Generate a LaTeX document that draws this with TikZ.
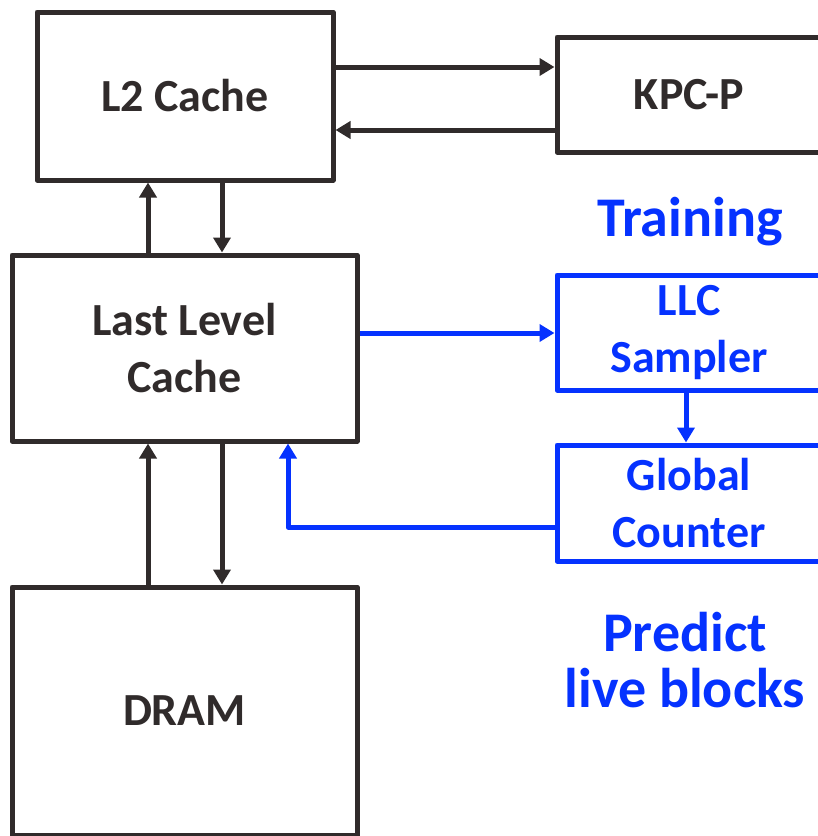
\documentclass[tikz,border=0pt]{standalone}
\usepackage{fontspec}
\setmainfont{Carlito}
\usetikzlibrary{arrows.meta}
\definecolor{ink}{RGB}{48,43,43}
\definecolor{bl}{RGB}{5,50,255}
\tikzset{
  boxfont/.style={font=\fontsize{46}{57.5}\selectfont\bfseries},
  box/.style={draw=ink, line width=5pt, line join=round, text=ink, boxfont, align=center, inner sep=0pt},
  bbox/.style={draw=bl, line width=5pt, line join=round, text=bl, boxfont, align=center, inner sep=0pt},
  karrow/.style={draw=ink, line width=5pt, -{Triangle[length=15pt,width=17pt]}},
  barrow/.style={draw=bl, line width=5pt, line join=round, -{Triangle[length=15pt,width=17pt]}},
  blabel/.style={text=bl, font=\fontsize{56}{56}\selectfont\bfseries, align=center, inner sep=0pt}
}
\begin{document}
\begin{tikzpicture}[x=1pt, y=-1pt]
  \useasboundingbox (0,0) rectangle (818,836);
  \clip (0,0) rectangle (818,836);
  % boxes
  \node[box, minimum width=296pt, minimum height=168pt] (l2) at (185,96) {L2 Cache};
  \node[box, minimum width=345pt, minimum height=186pt] (llc) at (184.5,348) {Last Level\\Cache};
  \node[box, minimum width=345pt, minimum height=248pt] (dram) at (184.5,711) {DRAM};
  \node[box, minimum width=264pt, minimum height=115pt] (kpc) at (689,94.5) {KPC-P};
  \node[bbox, minimum width=264pt, minimum height=115pt] (samp) at (689,332.5) {LLC\\Sampler};
  \node[bbox, minimum width=264pt, minimum height=116pt] (cnt) at (689,503) {Global\\Counter};
  % labels
  \node[blabel] (train) at (690,222) {Training};
  \node[blabel] (pred) at (685,660) {Predict\\live blocks};
  % helper coordinates
  \coordinate (xa) at (148,0);
  \coordinate (xb) at (222,0);
  \coordinate (xc) at (288,0);
  \coordinate (xd) at (686,0);
  \coordinate (ya) at (0,67);
  \coordinate (yb) at (0,130);
  \coordinate (yc) at (0,333);
  \coordinate (yd) at (0,527);
  % black connectors
  \draw[karrow] (l2.east |- ya) -- (kpc.west |- ya);
  \draw[karrow] (kpc.west |- yb) -- (l2.east |- yb);
  \draw[karrow] (llc.north -| xa) -- (l2.south -| xa);
  \draw[karrow] (l2.south -| xb) -- (llc.north -| xb);
  \draw[karrow] (dram.north -| xa) -- (llc.south -| xa);
  \draw[karrow] (llc.south -| xb) -- (dram.north -| xb);
  % blue connectors
  \draw[barrow] (llc.east |- yc) -- (samp.west |- yc);
  \draw[barrow] (samp.south -| xd) -- (cnt.north -| xd);
  \draw[barrow] (cnt.west |- yd) -- (xc |- yd) -- (llc.south -| xc);
\end{tikzpicture}
\end{document}
